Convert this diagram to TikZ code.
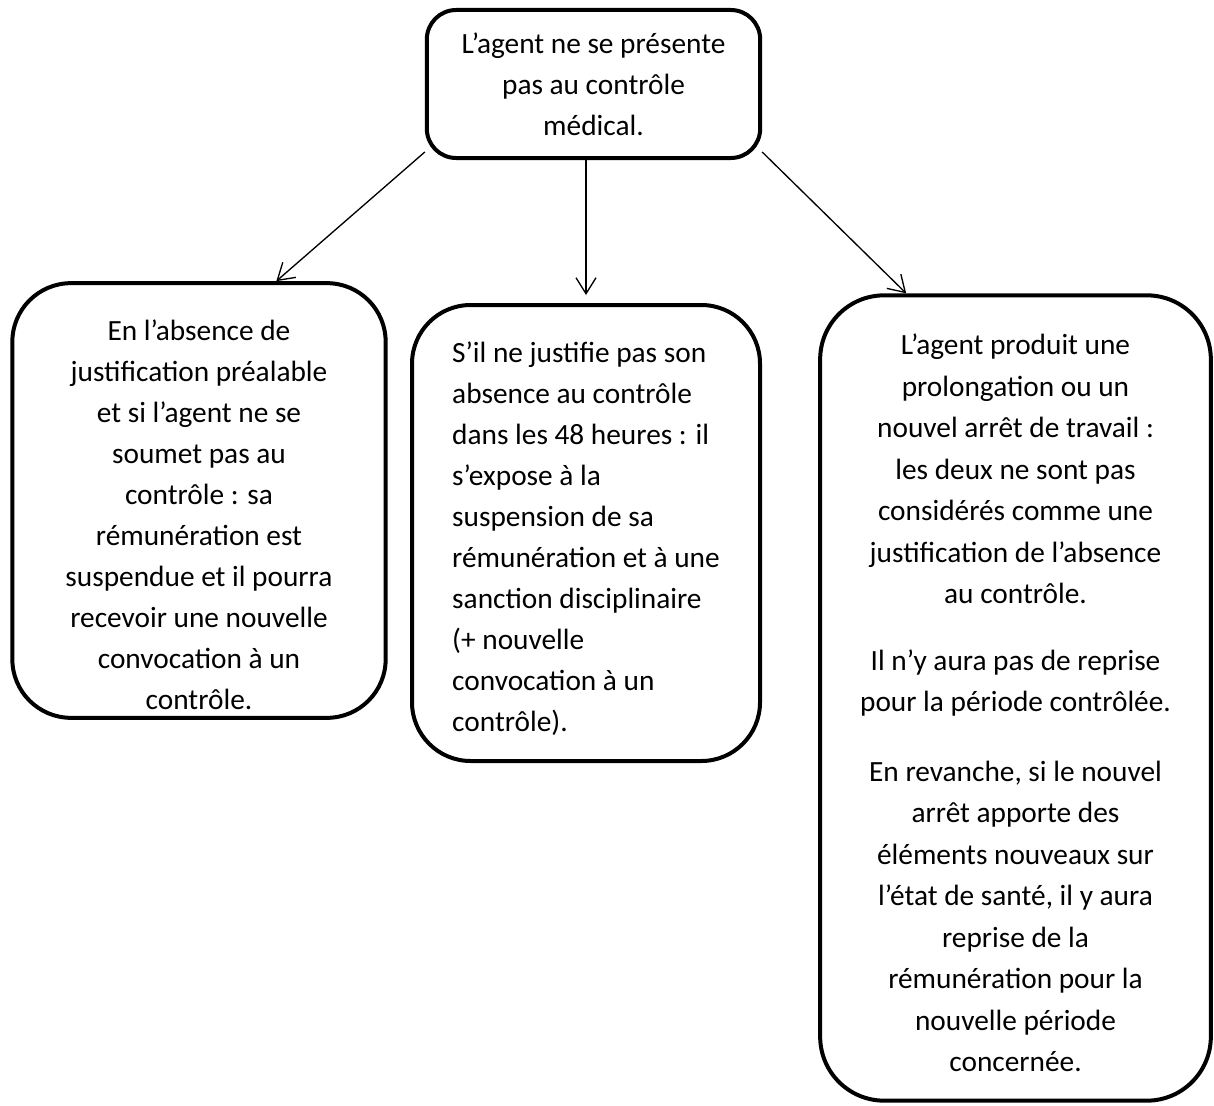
\documentclass[tikz,border=0pt]{standalone}
\usepackage{fontspec}
\setmainfont{Carlito}
\usepackage{tikz}
\usetikzlibrary{arrows.meta}
\usetikzlibrary{positioning}
\tikzset{>={Straight Barb[length=12pt,width=15pt]}}
\tikzstyle{etape} = [rectangle, draw=black, line width=3pt, inner sep=0pt, font=\fontsize{22pt}{30.75pt}\selectfont]
\tikzstyle{fleche} = [->, line width=1pt, draw=black]

\begin{document}
\begin{tikzpicture}[x=0.75pt, y=-0.75pt]
\useasboundingbox (0,0) rectangle (1214,1106);
\node [etape, rounded corners=22pt, align=center, minimum width=250pt, minimum height=111pt] (ctrl) at (593.5,84) {L’agent ne se présente\\pas au contrôle\\médical.};
\node [etape, rounded corners=44pt, align=center, minimum width=280pt, minimum height=326pt] (susp) at (199,500.5) {\\[6.75pt]En l’absence de\\justification préalable\\et si l’agent ne se\\soumet pas au\\contrôle : sa\\rémunération est\\suspendue et il pourra\\recevoir une nouvelle\\convocation à un\\contrôle.};
\node [etape, rounded corners=44pt, align=left, minimum width=261pt, minimum height=342pt] (sanc) at (586,533) {\\[-6.75pt]S’il ne justifie pas son\\absence au contrôle\\dans les 48 heures : il\\s’expose à la\\suspension de sa\\rémunération et à une\\sanction disciplinaire\\(+ nouvelle\\convocation à un\\contrôle).};
\node [etape, rounded corners=48pt, align=center, minimum width=293pt, minimum height=604pt, font=\fontsize{22pt}{31.1pt}\selectfont] (prol) at (1015.5,698) {\\[-8.25pt]L’agent produit une\\prolongation ou un\\nouvel arrêt de travail :\\les deux ne sont pas\\considérés comme une\\justification de l’absence\\au contrôle.\\[19pt]Il n’y aura pas de reprise\\pour la période contrôlée.\\[21pt]En revanche, si le nouvel\\arrêt apporte des\\éléments nouveaux sur\\l’état de santé, il y aura\\reprise de la\\rémunération pour la\\nouvelle période\\concernée.};
\draw [fleche] ([yshift=6pt]ctrl.south west) to ([xshift=58pt]susp.north);
\draw [fleche, shorten >=6pt] (ctrl.south -| sanc.north) to (sanc.north);
\draw [fleche] ([yshift=6pt]ctrl.south east) to ([xshift=-82pt]prol.north);
\end{tikzpicture}
\end{document}
